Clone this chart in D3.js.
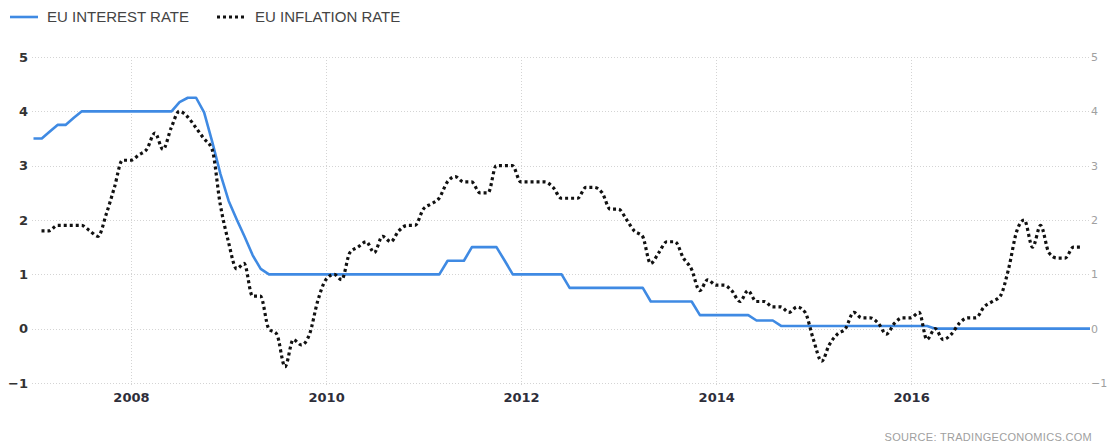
<!DOCTYPE html>
<html>
<head>
<meta charset="utf-8">
<script src="https://cdn.jsdelivr.net/npm/d3@7"></script>
<style>
	body{margin:0;background:#fff;}
	svg{display:block;}
	.grid line{stroke:#d4d4d4;stroke-dasharray:1,2;shape-rendering:crispEdges;}
</style>
</head>
<body>
<svg id="chart" width="1107" height="443"></svg>
<script>
// monthly series, first value is Jan 2007
var interestRate = [
	3.5, 3.5, 3.62, 3.75, 3.75, 3.88, 4, 4, 4, 4, 4, 4,
	4, 4, 4, 4, 4, 4, 4.17, 4.25, 4.25, 3.98, 3.43, 2.85,
	2.35, 2, 1.7, 1.35, 1.1, 1, 1, 1, 1, 1, 1, 1,
	1, 1, 1, 1, 1, 1, 1, 1, 1, 1, 1, 1,
	1, 1, 1, 1.25, 1.25, 1.25, 1.5, 1.5, 1.5, 1.5, 1.25, 1,
	1, 1, 1, 1, 1, 1, 0.75, 0.75, 0.75, 0.75, 0.75, 0.75,
	0.75, 0.75, 0.75, 0.75, 0.5, 0.5, 0.5, 0.5, 0.5, 0.5, 0.25, 0.25,
	0.25, 0.25, 0.25, 0.25, 0.25, 0.15, 0.15, 0.15, 0.05, 0.05, 0.05, 0.05,
	0.05, 0.05, 0.05, 0.05, 0.05, 0.05, 0.05, 0.05, 0.05, 0.05, 0.05, 0.05,
	0.05, 0.05, 0.05, 0, 0, 0, 0, 0, 0, 0, 0, 0,
	0, 0, 0, 0, 0, 0, 0, 0, 0, 0, 0
];

var inflationRate = [
	1.8, 1.8, 1.9, 1.9, 1.9, 1.9, 1.8, 1.7, 2.1, 2.6, 3.1, 3.1,
	3.2, 3.3, 3.6, 3.3, 3.7, 4.0, 3.9, 3.7, 3.5, 3.3, 2.3, 1.6,
	1.1, 1.2, 0.6, 0.6, 0.0, -0.1, -0.7, -0.2, -0.3, -0.1, 0.5, 0.9,
	1.0, 0.9, 1.4, 1.5, 1.6, 1.4, 1.7, 1.6, 1.8, 1.9, 1.9, 2.2,
	2.3, 2.4, 2.7, 2.8, 2.7, 2.7, 2.5, 2.5, 3.0, 3.0, 3.0, 2.7,
	2.7, 2.7, 2.7, 2.6, 2.4, 2.4, 2.4, 2.6, 2.6, 2.5, 2.2, 2.2,
	2.0, 1.8, 1.7, 1.2, 1.4, 1.6, 1.6, 1.3, 1.1, 0.7, 0.9, 0.8,
	0.8, 0.7, 0.5, 0.7, 0.5, 0.5, 0.4, 0.4, 0.3, 0.4, 0.3, -0.2,
	-0.6, -0.3, -0.1, 0.0, 0.3, 0.2, 0.2, 0.1, -0.1, 0.1, 0.2, 0.2,
	0.3, -0.2, 0.0, -0.2, -0.1, 0.1, 0.2, 0.2, 0.4, 0.5, 0.6, 1.1,
	1.8, 2.0, 1.5, 1.9, 1.4, 1.3, 1.3, 1.5, 1.5
];

var yTicks = [-1, 0, 1, 2, 3, 4, 5];
var xTickYears = [2008, 2010, 2012, 2014, 2016];
var legendLabels = ["EU INTEREST RATE", "EU INFLATION RATE"];
var sourceText = "SOURCE: TRADINGECONOMICS.COM";

var blue = "#3f8ae3";

function RateChart(containerId){
	var svg = d3.select(containerId);
	var plotLeft = 33.5, plotRight = 1090, plotTop = 57, plotBottom = 383;

	var months = d3.timeMonth.range(new Date(2007, 0, 1), new Date(2017, 11, 1));
	var x = d3.scaleTime()
		.domain([months[0], months[months.length - 1]])
		.range([plotLeft, plotRight]);
	var y = d3.scaleLinear()
		.domain([-1, 5])
		.range([plotBottom, plotTop]);

	// interest rate sits on the first of the month, inflation on the month end
	var interestData = interestRate.map(function(v, i){ return [months[i], v]; });
	var inflationData = inflationRate.map(function(v, i){
		return [d3.timeDay.offset(d3.timeMonth.offset(months[i], 1), -1), v];
	});

	var grid = svg.append("g").attr("class", "grid");
	grid.selectAll(".hline")
		.data(yTicks)
		.enter().append("line")
			.attr("class", "hline")
			.attr("x1", 32).attr("x2", plotRight)
			.attr("y1", function(d){ return Math.round(y(d)) + 0.5; })
			.attr("y2", function(d){ return Math.round(y(d)) + 0.5; });
	grid.selectAll(".vline")
		.data(xTickYears)
		.enter().append("line")
			.attr("class", "vline")
			.attr("x1", function(d){ return Math.round(x(new Date(d, 0, 1))) + 0.5; })
			.attr("x2", function(d){ return Math.round(x(new Date(d, 0, 1))) + 0.5; })
			.attr("y1", plotTop).attr("y2", plotBottom + 4);

	// left axis labels
	var leftAxis = d3.axisLeft(y).tickValues(yTicks).tickFormat(d3.format("d")).tickSize(0).tickPadding(5);
	svg.append("g")
		.attr("transform", "translate(33,0)")
		.call(leftAxis)
		.call(function(g){ g.select(".domain").remove(); })
		.selectAll("text")
			.attr("fill", "#333")
			.style("font", "bold 13px 'DejaVu Sans', sans-serif");

	// right axis labels
	var rightAxis = d3.axisRight(y).tickValues(yTicks).tickFormat(d3.format("d")).tickSize(0).tickPadding(1);
	svg.append("g")
		.attr("transform", "translate(1090,0)")
		.call(rightAxis)
		.call(function(g){ g.select(".domain").remove(); })
		.selectAll("text")
			.attr("fill", "#a0a0a0")
			.style("font", "11px 'DejaVu Sans', sans-serif");

	var bottomAxis = d3.axisBottom(x)
		.tickValues(xTickYears.map(function(d){ return new Date(d, 0, 1); }))
		.tickFormat(d3.timeFormat("%Y"))
		.tickSize(0).tickPadding(10);
	svg.append("g")
		.attr("transform", "translate(0," + plotBottom + ")")
		.call(bottomAxis)
		.call(function(g){ g.select(".domain").remove(); })
		.selectAll("text")
			.attr("fill", "#2e2e3a")
			.style("font", "bold 13px 'DejaVu Sans', sans-serif");

	var interestLine = d3.line()
		.x(function(d){ return x(d[0]); })
		.y(function(d){ return y(d[1]); });
	var inflationLine = d3.line()
		.curve(d3.curveMonotoneX)
		.x(function(d){ return x(d[0]); })
		.y(function(d){ return y(d[1]); });

	svg.append("path")
		.datum(interestData)
		.attr("fill", "none")
		.attr("stroke", blue)
		.attr("stroke-width", 2.6)
		.attr("stroke-linejoin", "round")
		.attr("d", interestLine);

	svg.append("path")
		.datum(inflationData)
		.attr("fill", "none")
		.attr("stroke", "#111")
		.attr("stroke-width", 3.2)
		.attr("stroke-dasharray", "3,3")
		.attr("d", inflationLine);

	// legend
	var legend = svg.append("g").attr("class", "legend");
	legend.append("line")
		.attr("x1", 10).attr("x2", 38).attr("y1", 17).attr("y2", 17)
		.attr("stroke", blue).attr("stroke-width", 2.6);
	legend.append("text")
		.attr("x", 47).attr("y", 22)
		.attr("fill", "#444")
		.style("font", "15px 'Liberation Sans', Arial, sans-serif")
		.text(legendLabels[0]);
	legend.append("line")
		.attr("x1", 217).attr("x2", 247).attr("y1", 17).attr("y2", 17)
		.attr("stroke", "#111").attr("stroke-width", 3)
		.attr("stroke-dasharray", "3,3");
	legend.append("text")
		.attr("x", 255).attr("y", 22)
		.attr("fill", "#444")
		.style("font", "15px 'Liberation Sans', Arial, sans-serif")
		.text(legendLabels[1]);

	svg.append("text")
		.attr("x", 1092).attr("y", 441)
		.attr("text-anchor", "end")
		.attr("fill", "#a0a0a0")
		.style("font", "11px 'Liberation Sans', Arial, sans-serif")
		.style("letter-spacing", "0.3px")
		.text(sourceText);
}

new RateChart("#chart");
</script>
</body>
</html>
